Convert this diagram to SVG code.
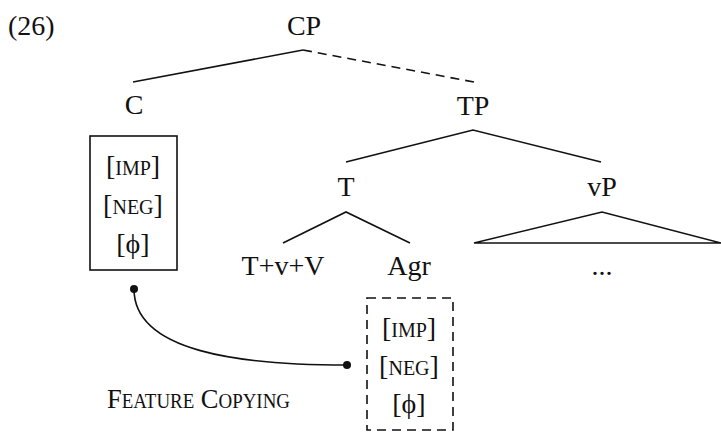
<svg xmlns="http://www.w3.org/2000/svg" width="721" height="433" viewBox="0 0 721 433">
<style>
text{font-family:"Liberation Serif","DejaVu Serif",serif;font-size:28px;fill:#111;text-anchor:middle}
.sc{font-variant:small-caps}
.ln{stroke:#111;stroke-width:1.6;fill:none}
.dash{stroke-dasharray:9 6}
</style>
<rect width="721" height="433" fill="#fff"/>
<text x="8" y="35" style="text-anchor:start">(26)</text>
<g id="connectors">
<line class="ln" x1="303" y1="50" x2="133" y2="82"/>
<line class="ln dash" x1="303" y1="50" x2="474" y2="82"/>
<polyline class="ln" points="346,162 473,130 601,162"/>
<polyline class="ln" points="283,243 346,212 410,243"/>
<polygon class="ln" points="474,243 602,212 721,243"/>
<path class="ln" d="M134,289 C134,352 240,365 347,365" stroke-width="2"/>
<circle cx="134" cy="289" r="4" fill="#111"/>
<circle cx="347" cy="365" r="4" fill="#111"/>
</g>
<g id="CP"><text x="304" y="35">CP</text></g>
<g id="C"><text x="134" y="114">C</text></g>
<g id="TP"><text x="473" y="115">TP</text></g>
<g id="T"><text x="346" y="196">T</text></g>
<g id="vP"><text x="602" y="196">vP</text></g>
<g id="TvV"><text x="283" y="275">T+v+V</text></g>
<g id="Agr"><text x="409" y="275">Agr</text></g>
<g id="dots"><text x="602" y="275">...</text></g>
<g id="Cfeatures">
<rect class="ln" x="90" y="136" width="87" height="134"/>
<text x="133" y="175" class="sc">[imp]</text>
<text x="133" y="214" class="sc">[neg]</text>
<text x="133" y="253">[ϕ]</text>
</g>
<g id="Agrfeatures">
<rect class="ln dash" x="367" y="298" width="86" height="132"/>
<text x="409" y="337" class="sc">[imp]</text>
<text x="409" y="375" class="sc">[neg]</text>
<text x="409" y="413">[ϕ]</text>
</g>
<g id="label"><text x="107" y="408" class="sc" style="text-anchor:start" textLength="183" lengthAdjust="spacingAndGlyphs">Feature Copying</text></g>
</svg>
